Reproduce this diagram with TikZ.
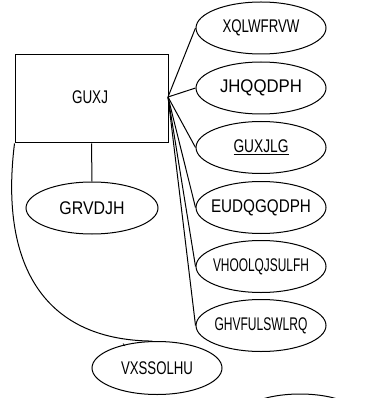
\documentclass[tikz,border=0pt]{standalone}
\usepackage{fontspec}
\setmainfont{Liberation Sans}
\usetikzlibrary{shapes.geometric}
\newcommand{\fit}[2]{\makebox[0pt][c]{\resizebox{#1}{12.8pt}{#2}}}
\begin{document}
\begin{tikzpicture}[x=1pt,y=-1pt,
  ent/.style={draw,line width=1pt,rectangle,minimum width=153pt,minimum height=88pt,inner sep=0pt,font=\fontsize{18}{20}\selectfont},
  attr/.style={draw,line width=1pt,ellipse,minimum width=130pt,minimum height=52pt,inner sep=0pt,font=\fontsize{18}{20}\selectfont},
  conn/.style={line width=1pt}]
\useasboundingbox (0,0) rectangle (365,398);
\node[ent] (drug) at (91.5,99) {};
\node[font=\fontsize{18}{20}\selectfont] at (90,97) {\fit{36pt}{GUXJ}};
\node[attr] (a1) at (261,28) {\fit{77pt}{XQLWFRVW}};
\node[attr] (a2) at (261,88) {\fit{82pt}{JHQQDPH}};
\node[attr] (a3) at (261,147.5) {\fit{55pt}{\underline{GUXJLG}}};
\node[attr] (a4) at (261,207.5) {\fit{100pt}{EUDQGQDPH}};
\node[attr] (a5) at (261,266.5) {\fit{96pt}{VHOOLQJSULFH}};
\node[attr] (a6) at (261,325.5) {\fit{93pt}{GHVFULSWLRQ}};
\node[attr,minimum width=132pt] (dos) at (92,208) {\fit{65pt}{GRVDJH}};
\node[attr,minimum height=53pt] (sup) at (157,368) {\fit{72pt}{VXSSOLHU}};
\node[attr,minimum height=54pt] (extra) at (300,421) {};
\coordinate (hub) at (168,97);
\foreach \n in {a1,a2,a3,a4,a5,a6} \draw[conn] (hub) -- (\n.west);
\draw[conn] (drug.south) -- (dos.north);
\draw[conn] (drug.south west) .. controls (0,260) and (40,340) .. (sup.100);
\draw[line width=0.7pt] (123,343.5) -- (125,346);
\end{tikzpicture}
\end{document}
